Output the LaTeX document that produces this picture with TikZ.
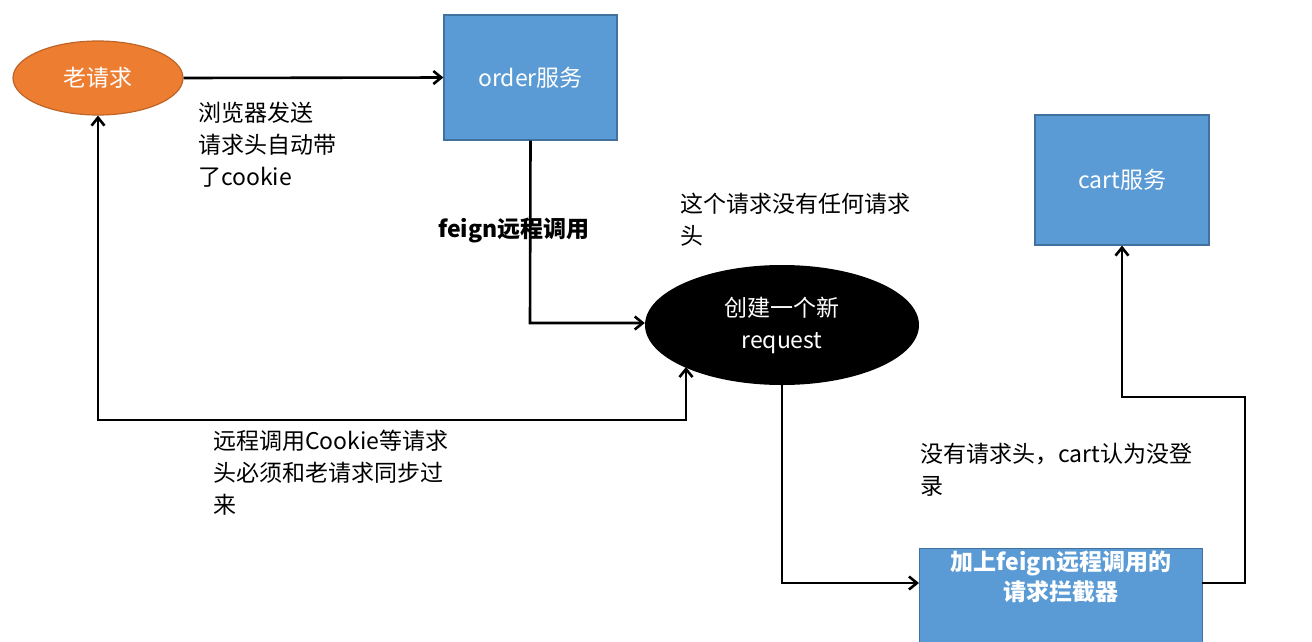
\documentclass[tikz,border=0pt]{standalone}
\usepackage{fontspec}
\setmainfont{Noto Sans CJK SC}
\usetikzlibrary{shapes.geometric,arrows.meta}
\definecolor{blu}{HTML}{5B9BD5}
\definecolor{blub}{HTML}{41719C}
\definecolor{org}{HTML}{ED7D31}
\begin{document}
\begin{tikzpicture}[x=1pt,y=-1pt,
  box/.style={draw=blub,line width=1.2pt,fill=blu,text=white,font=\fontsize{23}{27}\selectfont,align=center},
  lbl/.style={anchor=north west,align=left,font=\fontsize{23}{32}\selectfont,inner sep=0pt},
  arr/.style={-{Straight Barb[length=8pt,width=13pt]},line width=2.6pt}]
\useasboundingbox (0,0) rectangle (1312,641);
\clip (0,0) rectangle (1312,641);
\node[ellipse,draw=org!80!black,fill=org,line width=1.2pt,minimum width=170pt,minimum height=74pt,text=white,font=\fontsize{23}{27}\selectfont] (old) at (98,78) {老请求};
\node[box,minimum width=173pt,minimum height=125pt] (order) at (530.5,77.5) {order服务};
\node[box,minimum width=174pt,minimum height=130pt] (cart) at (1122,180) {cart服务};
\node[ellipse,fill=black,minimum width=274pt,minimum height=120pt,text=white,font=\fontsize{23}{32}\selectfont,align=center] (new) at (782,325) {创建一个新\\request};
\node[box,minimum width=283pt,minimum height=100pt,anchor=north west,inner sep=2pt,font=\bfseries\fontsize{23}{30}\selectfont] (intc) at (919,548) {加上feign远程调用的\\请求拦截器\\[18pt]};
\coordinate (intl) at (919,583);
\coordinate (intr) at (1202,583);
\draw[arr] (old.east) -- (order.west);
\draw[arr] (order.south) -- (530,323) -- (new.west |- 0,323);
\draw[arr,{Straight Barb[length=8pt,width=13pt]}-{Straight Barb[length=8pt,width=13pt]}] (old.south) -- (98,420) -- (686,420) -- (686,367);
\draw[arr] (782,385) -- (782,583) -- (intl);
\draw[arr] (intr) -- (1245,583) -- (1245,397) -- (1122,397) -- (cart.south);
\node[lbl] (t1) at (198,102) {浏览器发送\\请求头自动带\\了cookie};
\node[lbl,font=\bfseries\fontsize{23}{26}\selectfont] (t2) at (438,218) {feign远程调用};
\node[lbl] (t3) at (680,193) {这个请求没有任何请求\\头};
\node[lbl] (t4) at (213,430) {远程调用Cookie等请求\\头必须和老请求同步过\\来};
\node[lbl] (t5) at (920,443) {没有请求头，cart认为没登\\录};
\end{tikzpicture}
\end{document}
